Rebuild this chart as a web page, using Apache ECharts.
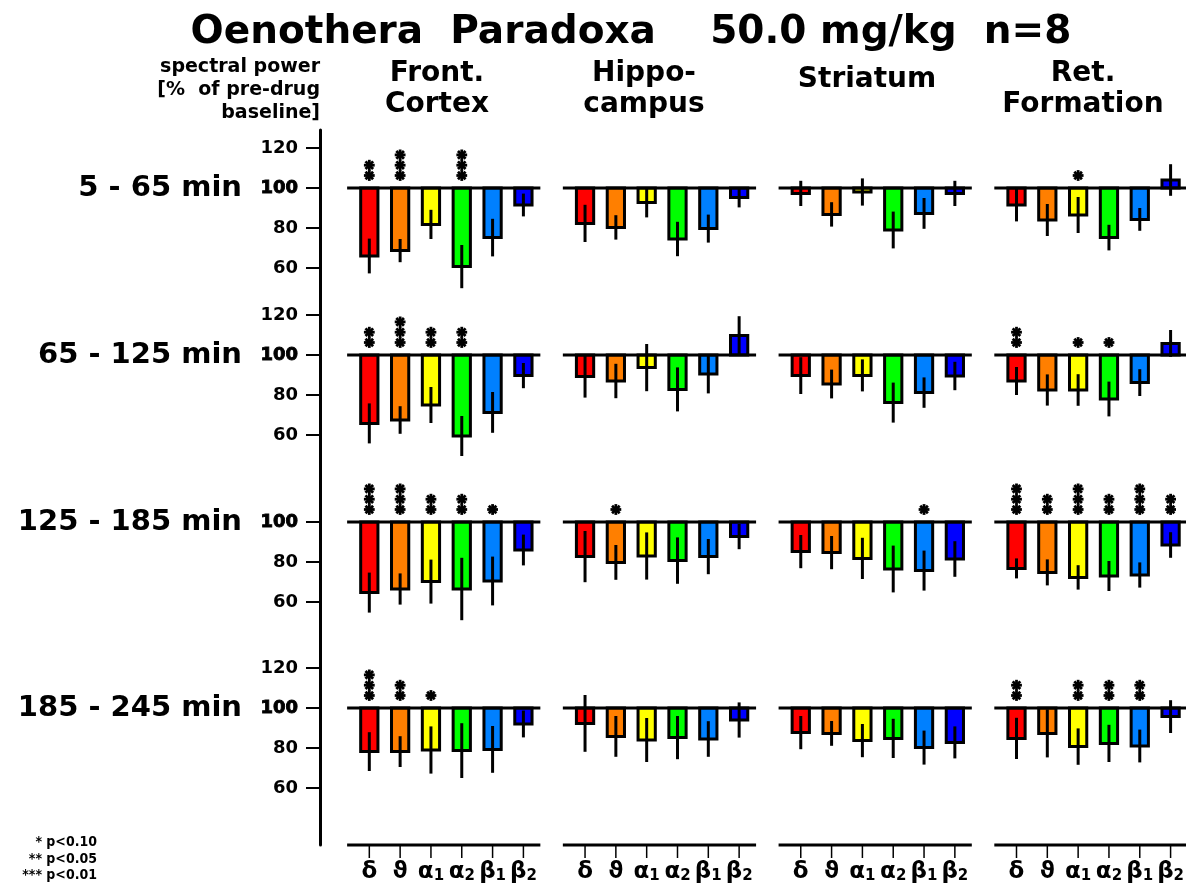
<!DOCTYPE html>
<html><head><meta charset="utf-8">
<script src="https://cdn.jsdelivr.net/npm/echarts@6/dist/echarts.min.js"></script>
<style>html,body{margin:0;padding:0;background:#fff}#c{width:1186px;height:883px}</style>
</head><body><div id="c"></div>
<script>
// ---------- DATA ----------
const bands = [['δ',''],['ϑ',''],['α','1'],['α','2'],['β','1'],['β','2']];
const bandColors = ['#ff0000','#ff7f00','#ffff00','#00ff00','#0080ff','#0000ff'];
const regions = [['Front.','Cortex'],['Hippo-','campus'],['Striatum'],['Ret.','Formation']];
const periods = ['5 - 65 min','65 - 125 min','125 - 185 min','185 - 245 min'];
const yTicks = [[60,80,100,120],[60,80,100,120],[60,80,100],[60,80,100,120]];
const legendLines = ['* p<0.10','** p<0.05','*** p<0.01'];

// mean [% of baseline] per region (FC, Hippo, Striatum, Ret.F) x band
const meanRow1 = [[66,68.7,81.8,60.7,75.2,91.5],[82.3,80.3,92.7,74.5,79.7,95.3],[97.3,86.8,98,79,87.3,97.3],[91.5,84,86.5,75.2,84.3,104]];
const sdRow1   = [[8.7,5.8,7.3,10.8,9.4,5.7],[9.3,6.1,7.4,8.6,7,5],[6.3,6.1,6.8,9.2,7.7,6.3],[8.2,8,9,6.4,5.7,7.9]];
const starsRow1= [[2,3,0,3,0,0],[0,0,0,0,0,0],[0,0,0,0,0,0],[0,0,1,0,0,0]];

const meanRow2 = [[65.8,67.5,75,59.5,71.3,89.7],[89.2,87,93.7,82.8,90.5,109.7],[89.7,85.5,89.8,76.2,81.2,89.5],[87,82.5,82.5,78,86.2,105.8]];
const sdRow2   = [[10,6.9,9,10,10.2,6.3],[10.5,8.6,11.8,11,9.7,9.7],[9.2,7.2,8,10,7.6,7.1],[7,7.8,7.9,8.7,6.7,6.7]];
const starsRow2= [[2,3,2,2,0,0],[0,0,0,0,0,0],[0,0,0,0,0,0],[2,0,1,1,0,0]];

const meanRow3 = [[64.7,66.5,70.2,66.5,70.5,86],[82.7,79.8,83,80.7,82.7,92.7],[85.2,84.7,81.8,76.5,75.7,81.5],[76.8,74.8,72.3,73,73.5,88.5]];
const sdRow3   = [[10,7.8,11,15.6,12.2,7.7],[12.8,8.7,11.8,11.6,8.8,6.3],[8.3,8.3,10.3,11.7,10,8.9],[5,6.5,6.1,7.5,6.3,6.4]];
const starsRow3= [[3,3,2,2,1,0],[0,1,0,0,0,0],[0,0,0,0,1,0],[3,2,3,2,3,2]];

const meanRow4 = [[78.2,78.2,79,78.7,79.3,92],[92.3,85.8,84,85.2,84.5,94],[87.7,87.3,83.7,84.8,80.2,82.8],[84.8,87.3,80.7,82.3,81,95.7]];
const sdRow4   = [[9.7,7.7,11.8,13.7,11.7,6.7],[14.2,10.2,11,10.8,8.9,8.8],[8.3,6.2,8.3,9.8,8.5,8],[10.3,12,9.1,9.3,8.2,8.2]];
const starsRow4= [[3,2,1,0,0,0],[0,0,0,0,0,0],[0,0,0,0,0,0],[2,0,2,2,2,0]];

const rowsData = [[meanRow1,sdRow1,starsRow1],[meanRow2,sdRow2,starsRow2],[meanRow3,sdRow3,starsRow3],[meanRow4,sdRow4,starsRow4]];

// ---------- LAYOUT ----------
const FONT = '"DejaVu Sans", Verdana, sans-serif';
const rowLayout = [
  {top:130, h:170, min:44,   max:129},
  {top:300, h:167, min:44,   max:127.5},
  {top:467, h:178, min:38.5, max:127.5},
  {top:645, h:200, min:31.5, max:131.5}
];
const GROUP_STEP = 7;

function renderBar(params, api){
  const x=api.value(0), v=api.value(1), sd=api.value(2), st=api.value(3), ci=api.value(4);
  const base=api.coord([x,100]), tip=api.coord([x,v]);
  const slot=api.size([1,0])[0];
  const w=slot*0.56;
  const hi=api.coord([x,v+sd]), lo=api.coord([x,v-sd]);
  const children=[
    {type:'rect',shape:{x:base[0]-w/2,y:Math.min(base[1],tip[1]),width:w,height:Math.abs(tip[1]-base[1])},
     style:{fill:bandColors[ci],stroke:'#000',lineWidth:3}},
    {type:'line',shape:{x1:tip[0],y1:hi[1],x2:tip[0],y2:lo[1]},style:{stroke:'#000',lineWidth:3}}
  ];
  for(let j=0;j<st;j++){
    const cy=base[1]-12.5-j*10.3, cx=base[0], r=5.4;
    for(let a=0;a<4;a++){
      const ang=a*Math.PI/4;
      children.push({type:'line',shape:{x1:cx-r*Math.cos(ang),y1:cy-r*Math.sin(ang),x2:cx+r*Math.cos(ang),y2:cy+r*Math.sin(ang)},
        style:{stroke:'#000',lineWidth:2.8}});
    }
  }
  return {type:'group',children};
}

function makeSegment(atValue, withTicks){
  return function(params, api){
    const g=api.value(0);
    const xs=g*GROUP_STEP, xe=g*GROUP_STEP+bands.length-1;
    const p1=api.coord([xs,atValue]), p2=api.coord([xe,atValue]);
    const slot=api.size([1,0])[0];
    const children=[{type:'line',shape:{x1:p1[0]-0.72*slot,y1:p1[1],x2:p2[0]+0.55*slot,y2:p1[1]},style:{stroke:'#000',lineWidth:3}}];
    if(withTicks){
      for(let i=0;i<bands.length;i++){
        const p=api.coord([xs+i,atValue]);
        children.push({type:'line',shape:{x1:p[0],y1:p[1],x2:p[0],y2:p[1]+13},style:{stroke:'#000',lineWidth:1.5}});
        children.push({type:'text',x:p[0],y:p[1]+27,style:{
          text: bands[i][1] ? '{a|'+bands[i][0]+'}{s|'+bands[i][1]+'}' : '{a|'+bands[i][0]+'}',
          align:'center',verticalAlign:'middle',textAlign:'center',textVerticalAlign:'middle',
          rich:{a:{fontSize:23,fontWeight:'bold',fontFamily:FONT,fill:'#000',color:'#000'},
                s:{fontSize:15,fontWeight:'bold',fontFamily:FONT,fill:'#000',color:'#000',verticalAlign:'bottom',padding:[8,0,0,0]}}
        }});
      }
    }
    return {type:'group',children};
  };
}

const grids=[], xAxes=[], yAxes=[], series=[];
rowLayout.forEach((L,r)=>{
  grids.push({left:320, top:L.top, width:866, height:L.h});
  xAxes.push({type:'value', gridIndex:r, min:-1.6, max:26.5, show:false});
  yAxes.push({type:'value', gridIndex:r, min:L.min, max:L.max,
    axisLine:{show:true,onZero:false,lineStyle:{color:'#000',width:3}},
    axisTick:{show:true,customValues:yTicks[r],length:14,lineStyle:{color:'#000',width:2}},
    splitLine:{show:false},
    axisLabel:{show:true,customValues:yTicks[r],margin:22,
      formatter:v=> v===100 ? '{b|100}' : '{n|'+v+'}',
      rich:{n:{fontSize:18,fontWeight:'bold',fontFamily:FONT,color:'#000'},
            b:{fontSize:18,fontWeight:'bold',fontFamily:FONT,color:'#000',textBorderColor:'#000',textBorderWidth:0.9}}}
  });
  const [mean,sd,stars]=rowsData[r];
  const data=[];
  for(let g=0;g<mean.length;g++) for(let i=0;i<bands.length;i++)
    data.push([g*GROUP_STEP+i, mean[g][i], sd[g][i], stars[g][i], i]);
  series.push({type:'custom', xAxisIndex:r, yAxisIndex:r, renderItem:renderBar, data, z:2, silent:true, animation:false});
  series.push({type:'custom', xAxisIndex:r, yAxisIndex:r, renderItem:makeSegment(100,false),
    data:regions.map((_,g)=>[g,100]), z:3, silent:true, animation:false});
  if(r===rowLayout.length-1){
    series.push({type:'custom', xAxisIndex:r, yAxisIndex:r, renderItem:makeSegment(L.min,true),
      data:regions.map((_,g)=>[g,L.min]), z:3, silent:true, animation:false});
  }
});

function txt(text,x,y,size,align,lh){
  return {type:'text',x,y,style:{text,font:'bold '+size+'px '+FONT,fill:'#000',
    align:align,textAlign:align,verticalAlign:'middle',textVerticalAlign:'middle',lineHeight:lh||size}};
}
const graphic=[
  txt('Oenothera  Paradoxa    50.0 mg/kg  n=8',631,33,39,'center'),
  txt('spectral power\n[%  of pre-drug\nbaseline]',320,90,19,'right',23),
  txt(regions[0].join('\n'),437,89,28,'center',31),
  txt(regions[1].join('\n'),644,89,28,'center',31),
  txt(regions[2].join('\n'),867,80,28,'center',31),
  txt(regions[3].join('\n'),1083,89,28,'center',31),
  txt(periods[0],242,188,29,'right'),
  txt(periods[1],242,355,29,'right'),
  txt(periods[2],242,522,29,'right'),
  txt(periods[3],242,708,29,'right'),
  {type:'text',x:97,y:859,style:{text:legendLines.join('\n'),font:'bold 14px "DejaVu Sans Condensed", "DejaVu Sans", sans-serif',
    fill:'#000',align:'right',textAlign:'right',verticalAlign:'middle',textVerticalAlign:'middle',lineHeight:16.5}}
];

const chart=echarts.init(document.getElementById('c'),null,{renderer:'canvas'});
chart.setOption({animation:false, backgroundColor:'#fff', grid:grids, xAxis:xAxes, yAxis:yAxes, series, graphic});
</script></body></html>
